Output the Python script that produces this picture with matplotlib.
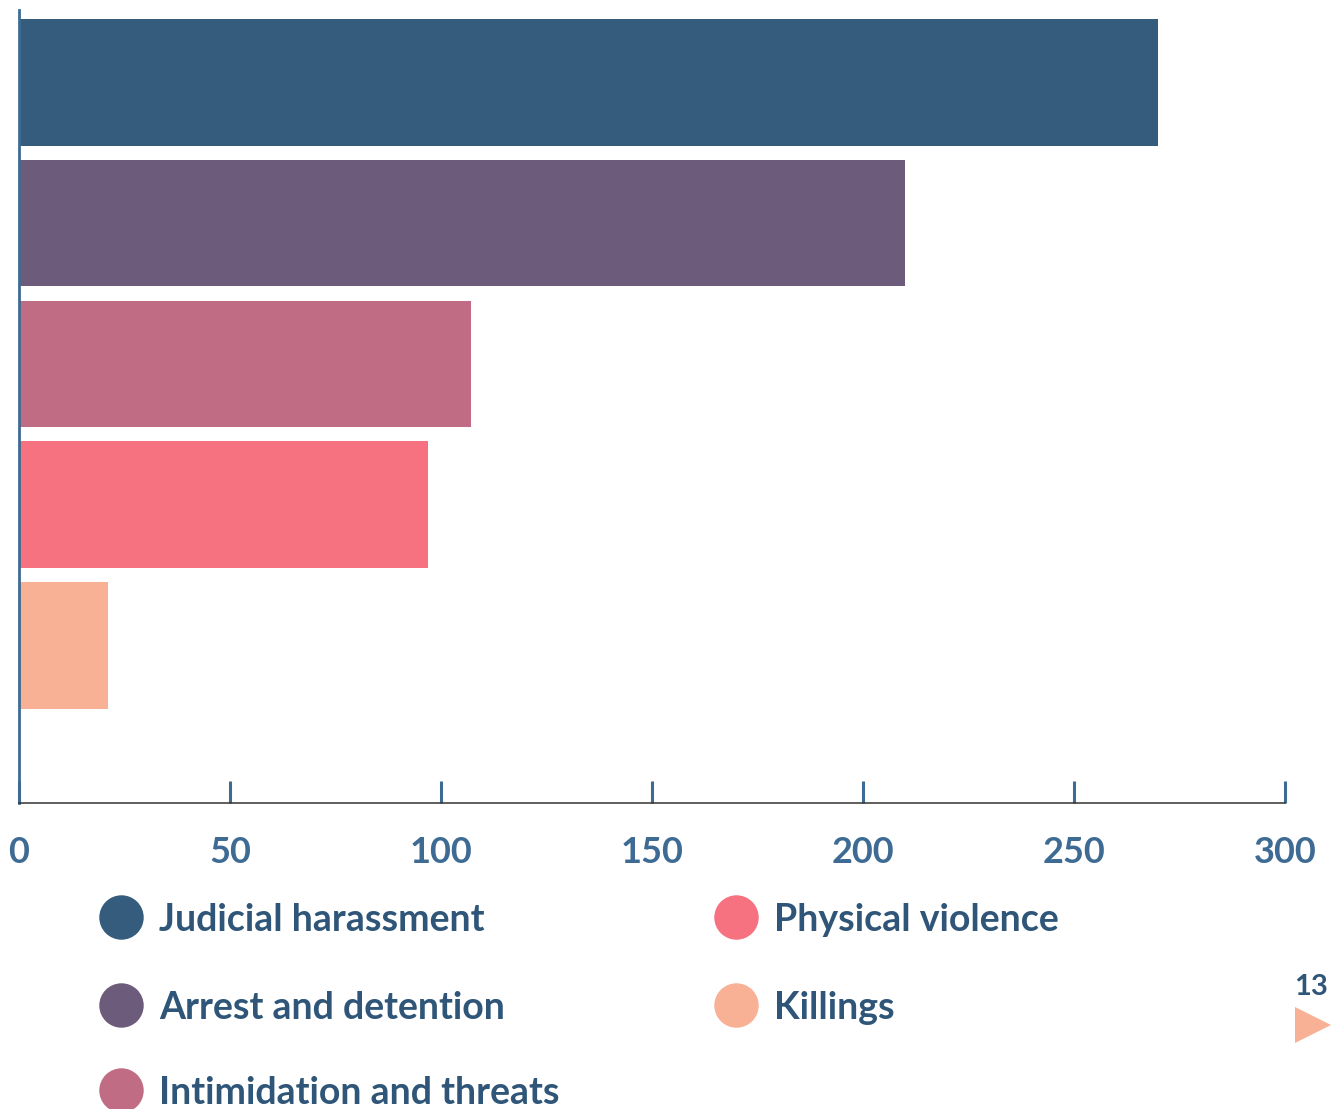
import matplotlib
matplotlib.use("Agg")
import matplotlib.pyplot as plt
from matplotlib.lines import Line2D

# ---- data ----
CATEGORIES = ["Judicial harassment", "Arrest and detention",
              "Intimidation and threats", "Physical violence", "Killings"]
VALUES = [270, 210, 107, 97, 21]
COLORS = ["#355c7d", "#6c5b7b", "#c06c84", "#f67280", "#f8b195"]
XTICKS = [0, 50, 100, 150, 200, 250, 300]
PAGE_NUMBER = "13"

TEXT_BLUE = "#2f5678"
TICK_BLUE = "#3d6b93"

plt.rcParams["font.family"] = ["Lato", "DejaVu Sans"]
plt.rcParams["font.weight"] = "bold"

W, H = 1335, 1109
fig = plt.figure(figsize=(W / 100, H / 100), dpi=100)
ax = fig.add_axes([19 / W, 1 - 803 / H, (1285 - 19) / W, (803 - 10) / H])

ypos = list(range(len(CATEGORIES)))
ax.barh(ypos, VALUES, height=0.9, color=COLORS, left=0)
ax.set_ylim(5.12, -0.514)
ax.set_xlim(0, 300)

ax.set_xticks(XTICKS)
ax.set_xticklabels([str(t) for t in XTICKS])
ax.tick_params(axis="x", direction="in", length=16, width=2.2,
               color=TICK_BLUE, pad=24, labelsize=26, labelcolor=TICK_BLUE)
ax.set_yticks([])

for s in ("top", "right"):
    ax.spines[s].set_visible(False)
ax.spines["left"].set_color(TICK_BLUE)
ax.spines["left"].set_linewidth(2.0)
ax.spines["bottom"].set_color("#333333")
ax.spines["bottom"].set_linewidth(1.1)

# ---- legend: two columns, circles + labels ----
col_x = [121, 736]
row_y = [917, 1005, 1090]
for i, (lab, col) in enumerate(zip(CATEGORIES, COLORS)):
    c, r = (0, i) if i < 3 else (1, i - 3)
    cx, cy = col_x[c], row_y[r]
    fig.add_artist(Line2D([cx / W], [1 - cy / H], marker="o", markersize=32,
                          color=col, markeredgewidth=0,
                          transform=fig.transFigure))
    fig.text((cx + 38) / W, 1 - cy / H, lab, fontsize=27, color=TEXT_BLUE,
             ha="left", va="center_baseline", fontweight="bold")

# page marker
fig.text(1311 / W, 1 - 987 / H, PAGE_NUMBER, fontsize=21, color=TEXT_BLUE,
         ha="center", va="center", fontweight="bold")
fig.add_artist(Line2D([1313 / W], [1 - 1025 / H], marker=">", markersize=26,
                      color="#f8b195", markeredgewidth=0,
                      transform=fig.transFigure))

fig.savefig("out.png", dpi=100)
